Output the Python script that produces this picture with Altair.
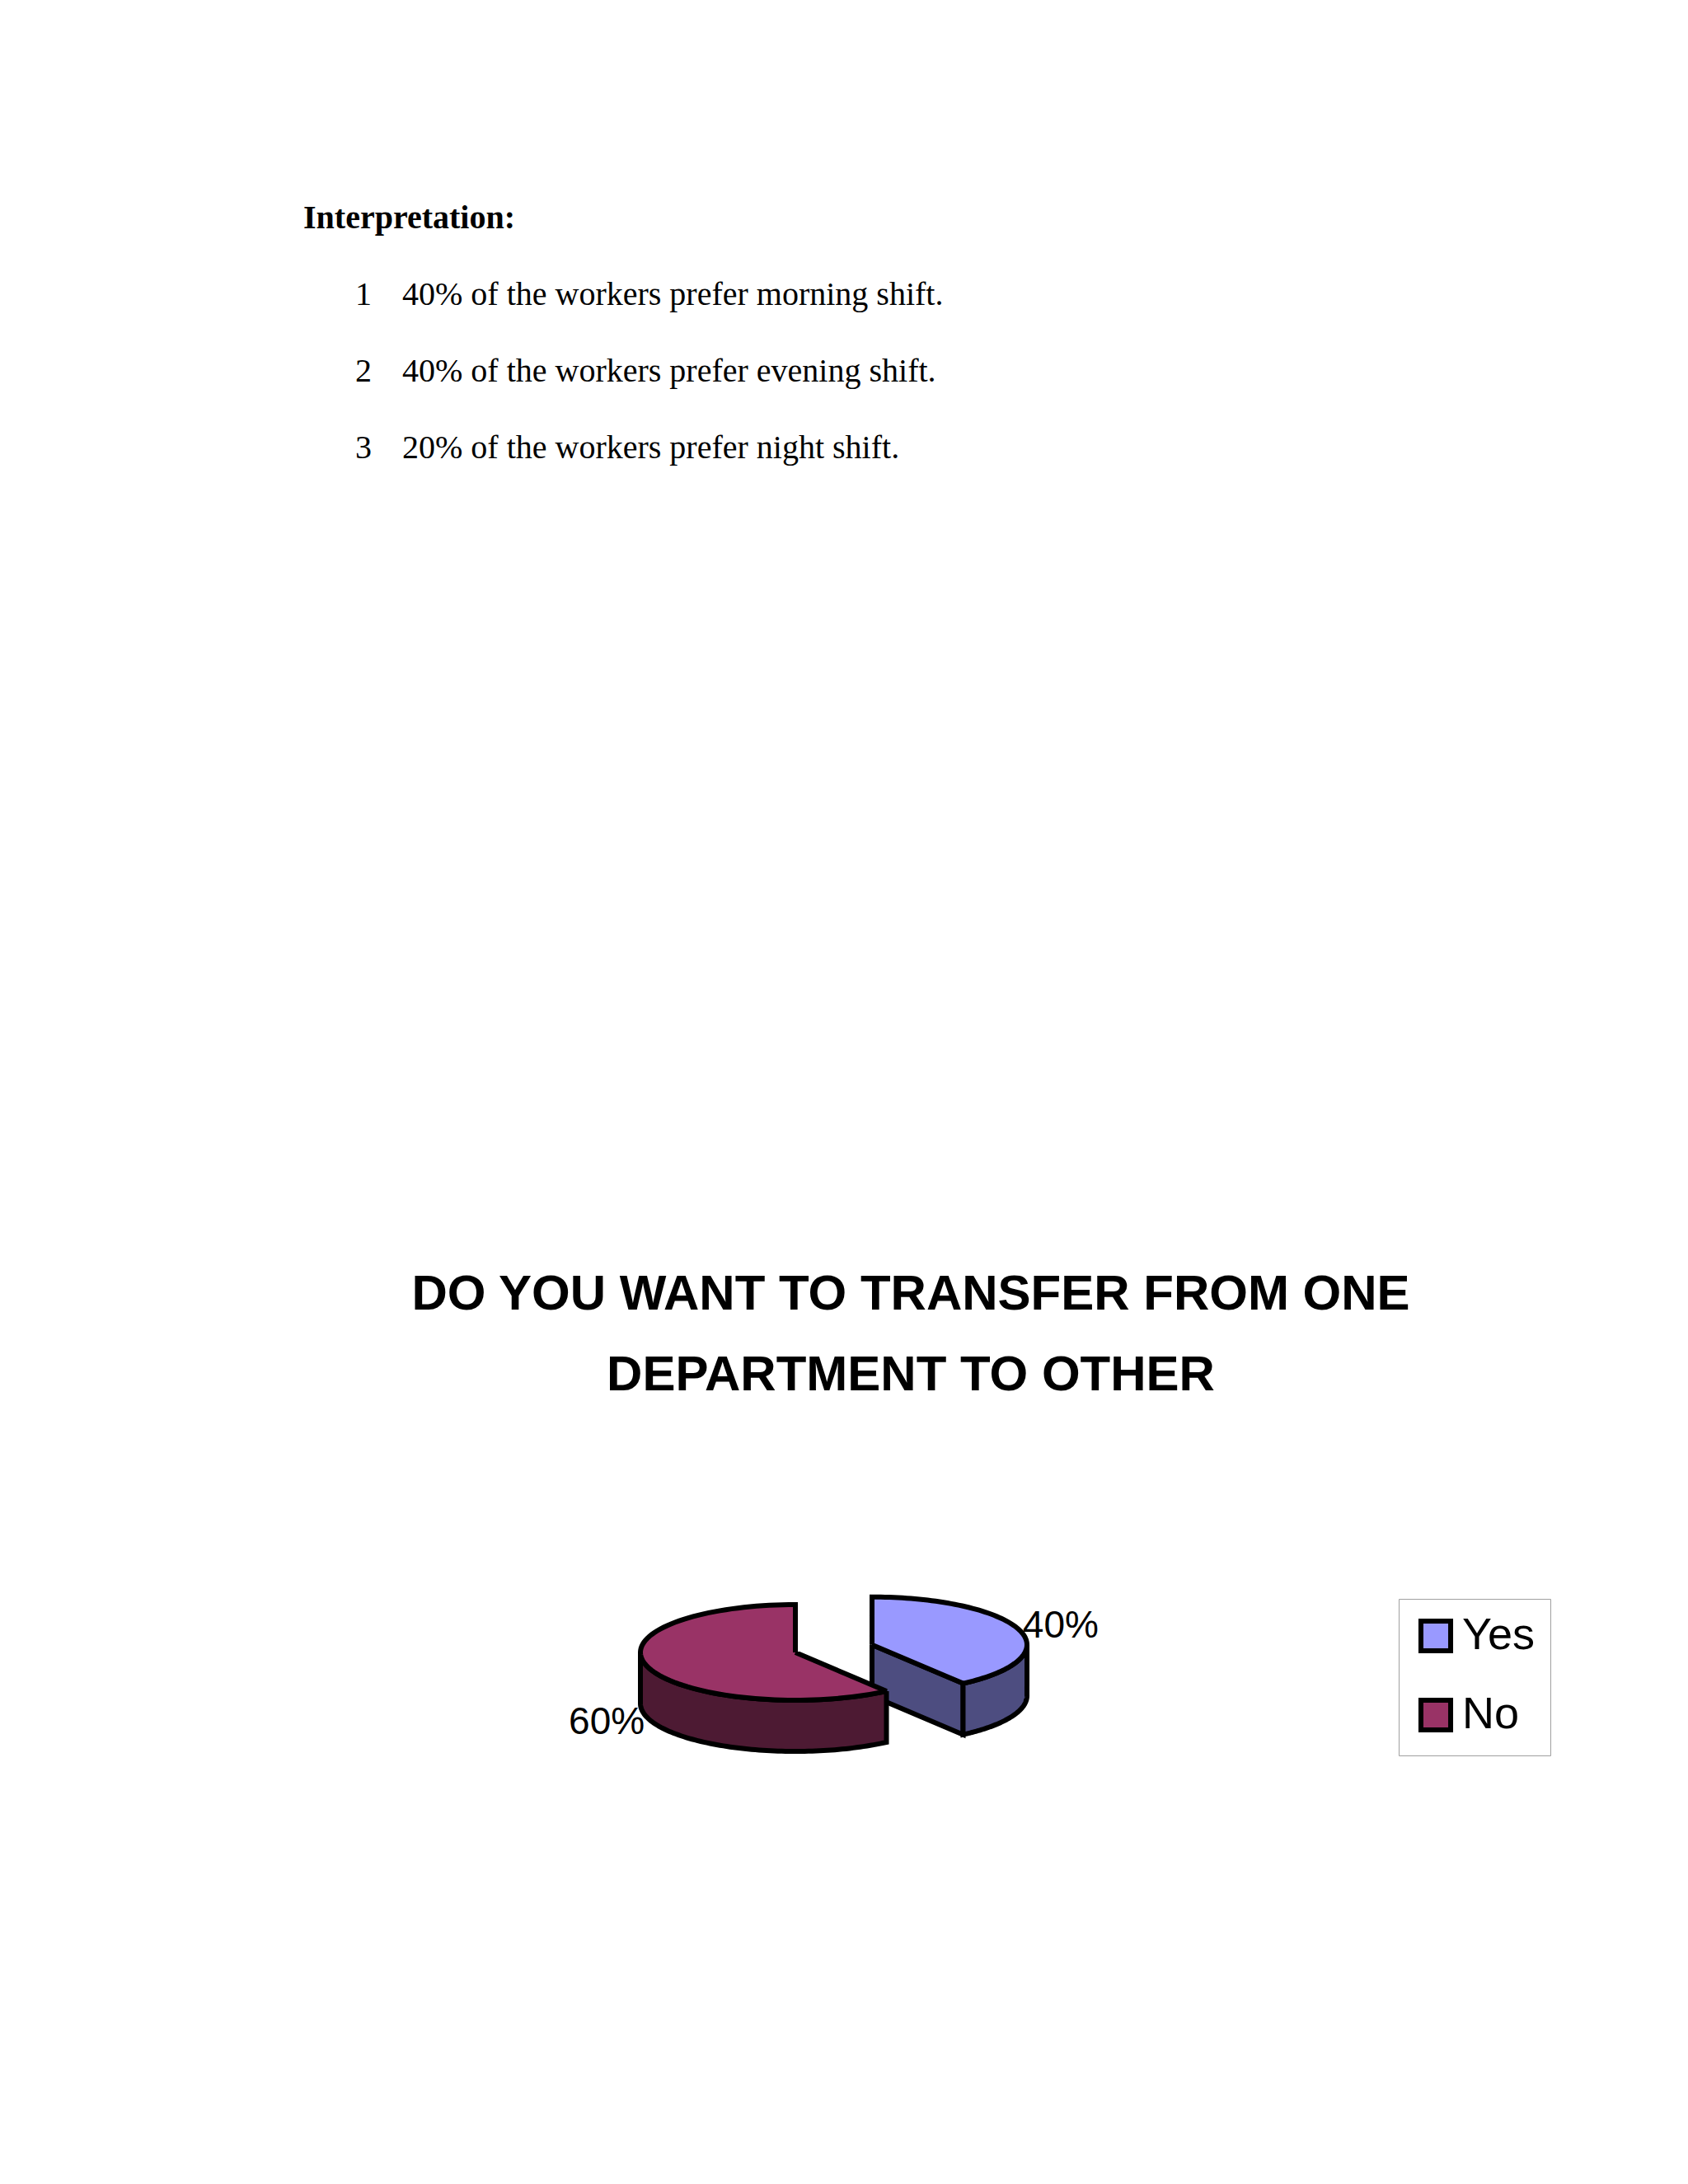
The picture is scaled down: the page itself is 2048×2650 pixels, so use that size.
import numpy as np
import pandas as pd
import altair as alt

# ---------------- data ----------------
answers = ["Yes", "No"]
shares = [40, 60]
share_labels = ["40%", "60%"]
top_colors = ["#9999FF", "#993366"]
side_colors = ["#4D4D80", "#4D1A33"]

heading = "Interpretation:"
point_numbers = ["1", "2", "3"]
point_texts = [
    "40% of the workers prefer morning shift.",
    "40% of the workers prefer evening shift.",
    "20% of the workers prefer night shift.",
]
chart_title = ["DO YOU WANT TO TRANSFER FROM ONE", "DEPARTMENT TO OTHER"]

# ---------------- 3-D pie geometry (unit ellipse; scales give the tilt) ----------------
DEPTH = 1.07
EXPLODE = {"Yes": 0.52, "No": 0.0}
N = 90


def unit(theta):
    t = np.radians(theta)
    return np.sin(t), np.cos(t)


poly_rows = []
label_rows = []
pid = 0


def add_poly(pts, layer, ans):
    global pid
    for i, (px, py) in enumerate(pts):
        poly_rows.append({"poly": pid, "layer": layer, "answer": ans, "i": i, "x": px, "y": py})
    pid += 1


start = 0.0
total = float(sum(shares))
for ans, share, lab in zip(answers, shares, share_labels):
    sweep = 360.0 * share / total
    end = start + sweep
    mid = start + sweep / 2
    mx, my = unit(mid)
    ex, ey = EXPLODE[ans] * mx, EXPLODE[ans] * my

    # cut wall at clockwise end
    sx, sy = unit(end)
    if sx > 1e-9:
        add_poly([(ex, ey), (ex + sx, ey + sy), (ex + sx, ey + sy - DEPTH), (ex, ey - DEPTH), (ex, ey)],
                 ans + "-wall", ans)
    # cut wall at start
    sx0, sy0 = unit(start)
    if sx0 < -1e-9:
        add_poly([(ex, ey), (ex + sx0, ey + sy0), (ex + sx0, ey + sy0 - DEPTH), (ex, ey - DEPTH), (ex, ey)],
                 ans + "-wall", ans)
    # front outer wall
    a, b = max(start, 90.0), min(end, 270.0)
    if b > a:
        th = np.linspace(a, b, N)
        ux, uy = unit(th)
        topp = [(ex + u, ey + v) for u, v in zip(ux, uy)]
        bot = [(ex + u, ey + v - DEPTH) for u, v in zip(ux, uy)][::-1]
        add_poly(topp + bot + [topp[0]], ans + "-wall", ans)
    # top face
    th = np.linspace(start, end, N)
    ux, uy = unit(th)
    add_poly([(ex, ey)] + [(ex + u, ey + v) for u, v in zip(ux, uy)] + [(ex, ey)], ans + "-top", ans)

    r = 1.28
    lx = ex + r * mx
    ly = ey + r * my - (DEPTH if my < 0 else 0.0)
    label_rows.append({"answer": ans, "label": lab, "x": lx, "y": ly})
    start = end

pie_df = pd.DataFrame(poly_rows)
label_df = pd.DataFrame(label_rows)

# ---------------- chart ----------------
W, H = 2032, 2620
X_SCALE = alt.Scale(domain=[-1, 1], range=[769, 1145])
Y_SCALE = alt.Scale(domain=[-1, 1], range=[2055, 1939])
SANS = "'Liberation Sans', Arial, sans-serif"
SERIF = "'Liberation Serif', 'Times New Roman', serif"
STROKE_W = 6

base = alt.Chart(pie_df)
enc = dict(
    x=alt.X("x:Q", scale=X_SCALE, axis=None),
    y=alt.Y("y:Q", scale=Y_SCALE, axis=None),
    order=alt.Order("i:Q"),
    detail="poly:N",
)

legend = alt.Legend(
    title=None, orient="none", legendX=1689, legendY=1932,
    symbolType="square", symbolSize=1300, symbolStrokeColor="black", symbolStrokeWidth=6,
    labelFont=SANS, labelFontSize=54, labelColor="black", labelOffset=5,
    rowPadding=34, padding=18, strokeColor="#A0A0A0", fillColor="white", labelLimit=0,
)

layers = []
for ans, side in zip(answers, side_colors):
    wall = base.transform_filter(alt.datum.layer == ans + "-wall").mark_line(
        fill=side, stroke="black", strokeWidth=STROKE_W, strokeJoin="miter", strokeMiterLimit=3
    ).encode(**enc)
    top = base.transform_filter(alt.datum.layer == ans + "-top").mark_line(
        stroke="black", strokeWidth=STROKE_W, strokeJoin="miter", strokeMiterLimit=3
    ).encode(
        fill=alt.Fill("answer:N", scale=alt.Scale(domain=answers, range=top_colors), legend=legend),
        **enc,
    )
    layers += [wall, top]

labels = alt.Chart(label_df).mark_text(
    font=SANS, fontSize=46, color="black", align="center", baseline="middle"
).encode(
    x=alt.X("x:Q", scale=X_SCALE, axis=None),
    y=alt.Y("y:Q", scale=Y_SCALE, axis=None),
    text="label:N",
)
layers.append(labels)


def text_layer(txt, x, y, **kw):
    return alt.Chart(pd.DataFrame({"t": [txt]})).mark_text(color="black", **kw).encode(
        x=alt.value(x), y=alt.value(y), text="t:N"
    )


layers.append(text_layer(heading, 360, 269, font=SERIF, fontSize=40, fontWeight="bold",
                         align="left", baseline="alphabetic"))
baselines = [362, 455, 548]
for num, txt, yb in zip(point_numbers, point_texts, baselines):
    layers.append(text_layer(num, 423, yb, font=SERIF, fontSize=40, align="left", baseline="alphabetic"))
    layers.append(text_layer(txt, 480, yb, font=SERIF, fontSize=40, align="left", baseline="alphabetic"))

for line, yb in zip(chart_title, [1581, 1679]):
    layers.append(text_layer(line, 1097, yb, font=SANS, fontSize=60, fontWeight="bold",
                             align="center", baseline="alphabetic"))

chart = alt.layer(*layers).properties(
    width=W, height=H,
    autosize=alt.AutoSizeParams(type="none"),
    padding=0, background="white",
).configure_view(stroke=None)

chart.save("out.html", embed_options={"renderer": "svg", "actions": False})
